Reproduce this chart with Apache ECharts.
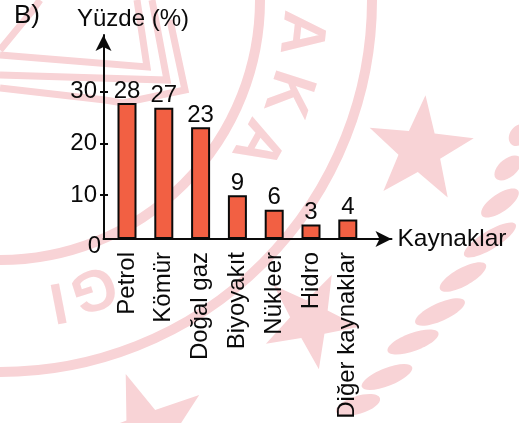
<!DOCTYPE html>
<html><head><meta charset="utf-8">
<style>html,body{margin:0;padding:0;background:#fff}#c{width:519px;height:423px}</style>
<script src="https://cdn.jsdelivr.net/npm/echarts@6/dist/echarts.min.js"></script>
</head><body><div id="c"></div>
<script>
const categories = ['Petrol','Kömür','Doğal gaz','Biyoyakıt','Nükleer','Hidro','Diğer kaynaklar'];
const values = [28,27,23,9,6,3,4];
const tickValues = [10,20,30];
const zeroTick = [0];
const FONT = 'Liberation Sans, Arial, sans-serif';
const INK = '#0a0a0a';
const PINK = '#f8d3d6';

function star(cx,cy,r,rot){
  const pts=[];
  for(let i=0;i<10;i++){
    const a=rot+i*Math.PI/5, q=i%2?r*0.4:r;
    pts.push([cx+q*Math.sin(a),cy-q*Math.cos(a)]);
  }
  return {type:'polygon',z:-10,silent:true,shape:{points:pts},style:{fill:PINK}};
}
function ring(r,w,a0,a1){
  return {type:'arc',z:-10,silent:true,shape:{cx:0,cy:0,r:r,startAngle:a0,endAngle:a1,clockwise:true},
    style:{stroke:PINK,lineWidth:w,fill:'none'}};
}
function band(pts,w){
  return {type:'polyline',z:-10,silent:true,shape:{points:pts},style:{stroke:PINK,lineWidth:w,fill:'none'}};
}
function leaf(x,y,l,rot){
  return {type:'ellipse',z:-10,silent:true,x:x,y:y,rotation:rot,shape:{cx:0,cy:0,rx:l,ry:9},style:{fill:PINK}};
}
function wm(t,x,y,rot,s){
  return {type:'text',z:-10,silent:true,x:x,y:y,rotation:rot,
    style:{text:t,fontSize:s,fontWeight:'bold',fontFamily:FONT,fill:PINK,align:'center',verticalAlign:'middle'}};
}
const watermark=[
  ring(260,10,0,1.58), ring(372,10,0,1.58),
  band([[0,55],[147,67],[137,0]],7), band([[0,75],[167,80],[152,0]],7),
  band([[0,88],[105,100],[123,103],[185,90],[170,20]],7), band([[0,50],[33,10],[40,0]],7),
  star(420,150,55,0.1), star(310,320,50,0.45), star(148,435,65,-0.35),
  wm('A',300,33,-1.68,62), wm('K',287,93,-1.88,62), wm('A',257,143,-2.08,62),
  wm('G',93,287,-2.83,58), wm('I',58,300,-2.95,58),
  leaf(463,277,26,0.5), leaf(440,312,27,0.42), leaf(413,342,27,0.35), leaf(387,377,27,0.38),
  leaf(358,405,23,0.3), leaf(490,240,30,0.55), leaf(500,203,22,0.6), leaf(508,168,16,0.7), leaf(519,135,12,0.9)
];

const option = {
  animation:false,
  backgroundColor:'#fff',
  title:{text:'B)',left:14,top:3,padding:0,textStyle:{fontFamily:FONT,fontSize:26,fontWeight:'normal',color:INK}},
  graphic:watermark,
  grid:[
    {left:108.6,top:35,width:257.6,height:204},
    {left:103.5,top:35,width:288,height:204},
    {left:108,top:39.9,width:20,height:206.8},
    {left:104,top:39.9,width:20,height:206.8}
  ],
  xAxis:[
    {gridIndex:0,type:'category',data:categories,
      axisLine:{show:false},axisTick:{show:false},
      axisLabel:{rotate:90,margin:13,interval:0,padding:[0,0,4,0],fontFamily:FONT,fontSize:24,color:INK}},
    {gridIndex:1,type:'value',min:0,max:1,name:'Kaynaklar',nameLocation:'end',nameGap:6,
      nameTextStyle:{fontFamily:FONT,fontSize:24.5,color:INK},
      axisLine:{show:true,symbol:['none','arrow'],symbolSize:[12,16],lineStyle:{color:INK,width:2}},
      axisTick:{show:false},axisLabel:{show:false},splitLine:{show:false}},
    {gridIndex:2,type:'value',show:false,min:0,max:1},
    {gridIndex:3,type:'value',show:false,min:0,max:1}
  ],
  yAxis:[
    {gridIndex:0,type:'value',min:0,max:42,show:false},
    {gridIndex:1,type:'value',min:0,max:1,name:'Yüzde (%)',nameLocation:'end',nameGap:4,
      nameTextStyle:{fontFamily:FONT,fontSize:24,color:INK,align:'center',padding:[0,0,0,59]},
      axisLine:{show:true,symbol:['none','arrow'],symbolSize:[12,16],lineStyle:{color:INK,width:2}},
      axisTick:{show:false},axisLabel:{show:false},splitLine:{show:false}},
    {gridIndex:2,type:'value',min:0,max:40,
      axisLine:{show:false},splitLine:{show:false},
      axisTick:{show:true,length:8,customValues:tickValues,lineStyle:{color:INK,width:2}},
      axisLabel:{customValues:tickValues,margin:11,padding:[3,0,0,0],fontFamily:FONT,fontSize:24,color:INK}},
    {gridIndex:3,type:'value',min:0,max:40,
      axisLine:{show:false},splitLine:{show:false},axisTick:{show:false},
      axisLabel:{customValues:zeroTick,margin:3,padding:[3,0,0,0],fontFamily:FONT,fontSize:24,color:INK}}
  ],
  series:[{
    type:'bar',xAxisIndex:0,yAxisIndex:0,data:values,barWidth:19,
    itemStyle:{color:'#f26043',borderColor:INK,borderWidth:2},
    label:{show:true,position:'top',distance:0,fontFamily:FONT,fontSize:24,color:INK}
  }]
};
echarts.init(document.getElementById('c'),null,{renderer:'canvas'}).setOption(option);
</script></body></html>
